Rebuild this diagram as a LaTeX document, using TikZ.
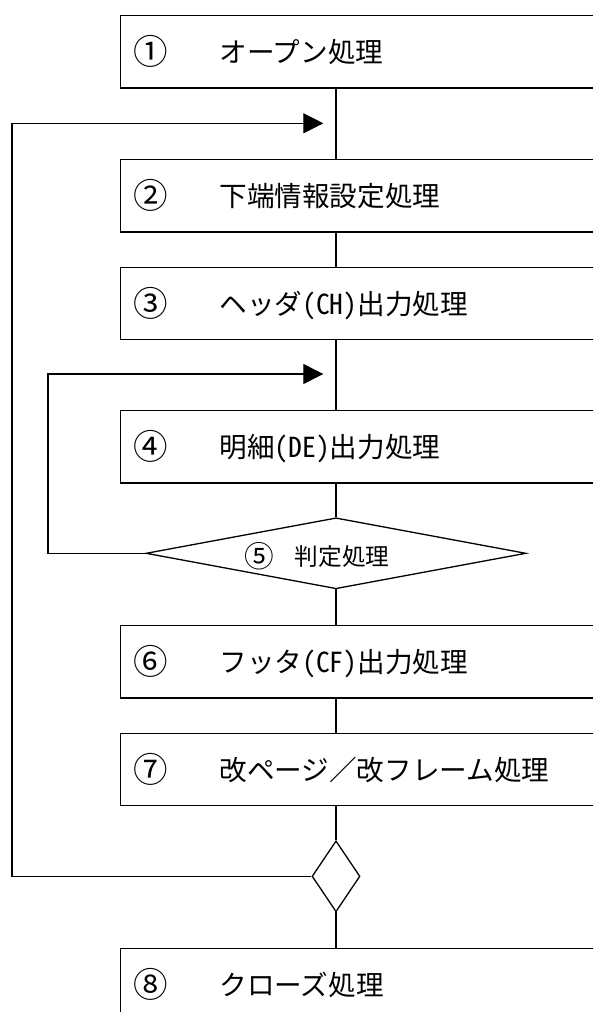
\documentclass[tikz,border=0pt]{standalone}
\usepackage{fontspec}
\usepackage{graphicx}
\newfontfamily\jp{Noto Sans CJK JP}
\newfontfamily\jphw[RawFeature=+hwid]{Noto Sans CJK JP}
\newcommand{\cnum}[1]{\makebox[1em]{\raisebox{-0.09em}{\scalebox{1.25}{#1}}}}
\usetikzlibrary{shapes.geometric,arrows.meta}
\begin{document}
\begin{tikzpicture}[x=1pt,y=-1pt,
  every node/.style={font=\jp},
  stepbox/.style={draw=black, line width=1.3pt, rectangle, anchor=north west,
    minimum width=530pt, minimum height=72.3pt, text width=498pt, inner xsep=16pt,
    align=left, font=\jp\fontsize{27.6pt}{30pt}\selectfont},
  decide/.style={draw=black, line width=1.3pt, diamond, inner sep=0pt},
  flow/.style={draw=black, line width=1.3pt},
  back/.style={draw=black, line width=1.3pt, -{Triangle[length=20pt,width=20pt]}}]
\clip (0,0) rectangle (593,1012);
\fill[white] (0,0) rectangle (593,1012);
% boxes
\node[stepbox] (b1) at (120,15)    {\raisebox{-3pt}{\cnum{①}　　オープン処理}};
\node[stepbox] (b2) at (120,159)   {\raisebox{-3pt}{\cnum{②}　　下端情報設定処理}};
\node[stepbox] (b3) at (120,266.7) {\raisebox{-3pt}{\cnum{③}　　ヘッダ{\jphw (CH)}出力処理}};
\node[stepbox] (b4) at (120,410)   {\raisebox{-3pt}{\cnum{④}　　明細{\jphw (DE)}出力処理}};
\node[decide, minimum width=380pt, minimum height=71pt] (d5) at (336,553.3) {};
\node[font=\jp\fontsize{23.7pt}{26pt}\selectfont, inner sep=0pt, anchor=west] (d5t) at (247,556) {\cnum{⑤}　判定処理};
\node[stepbox] (b6) at (120,625)   {\raisebox{-3pt}{\cnum{⑥}　　フッタ{\jphw (CF)}出力処理}};
\node[stepbox] (b7) at (120,732.7) {\raisebox{-3pt}{\cnum{⑦}　　改ページ／改フレーム処理}};
\node[decide, minimum width=48pt, minimum height=71pt] (d7) at (336,876.3) {};
\node[stepbox] (b8) at (120,948)   {\raisebox{-3pt}{\cnum{⑧}　　クローズ処理}};
% spine
\coordinate (sp) at (336,0);
\draw[flow] (b1.south -| sp) -- (b2.north -| sp);
\draw[flow] (b2.south -| sp) -- (b3.north -| sp);
\draw[flow] (b3.south -| sp) -- (b4.north -| sp);
\draw[flow] (b4.south -| sp) -- (d5.north);
\draw[flow] (d5.south) -- (b6.north -| sp);
\draw[flow] (b6.south -| sp) -- (b7.north -| sp);
\draw[flow] (b7.south -| sp) -- (d7.north);
\draw[flow] (d7.south) -- (b8.north -| sp);
% loops
\coordinate (c1) at (12,876.3);
\coordinate (t1) at (323.3,123.3);
\coordinate (c2) at (48,553.3);
\coordinate (t2) at (323.3,374);
\draw[back] (d7.west) -- (c1) |- (t1);
\draw[back] (d5.west) -- (c2) |- (t2);
\end{tikzpicture}
\end{document}
